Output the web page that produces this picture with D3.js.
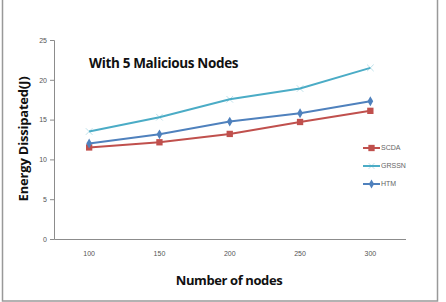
<!DOCTYPE html>
<html>
<head>
<meta charset="utf-8">
<script src="https://cdn.jsdelivr.net/npm/d3@7"></script>
<style>
  body { margin: 0; background: #fff; }
  svg { display: block; }
</style>
</head>
<body>
<div id="chart"></div>
<script>
const width = 446, height = 302;
const margin = {top: 40, right: 40, bottom: 63, left: 54};

// data
const nodes = [100, 150, 200, 250, 300];
const scda  = [11.5, 12.15, 13.2, 14.7, 16.1];
const grssn = [13.5, 15.3, 17.55, 18.9, 21.5];
const htm   = [12.0, 13.15, 14.75, 15.8, 17.3];
const yTicks = [0, 5, 10, 15, 20, 25];

const series = [
  {name: 'SCDA',  values: scda,  color: '#C0504D', marker: 'square'},
  {name: 'GRSSN', values: grssn, color: '#4BACC6', marker: 'star'},
  {name: 'HTM',   values: htm,   color: '#4F81BD', marker: 'diamond'}
];

const svg = d3.select('#chart')
  .append('svg')
    .attr('width', width)
    .attr('height', height);

// outer frame
svg.append('rect')
  .attr('x', 2.5).attr('y', -5)
  .attr('width', 435).attr('height', 306)
  .attr('fill', 'none')
  .attr('stroke', '#999')
  .attr('stroke-width', 1.5);

const innerW = 405.5 - margin.left;
const innerH = 239 - margin.top;

const g = svg.append('g')
  .attr('transform', `translate(${margin.left},${margin.top})`);

const xScale = d3.scaleBand()
  .domain(nodes)
  .range([0, innerW]);

const yScale = d3.scaleLinear()
  .domain([0, 25])
  .range([innerH, 0]);

const xc = d => xScale(d) + xScale.bandwidth() / 2;

// axes
const yAxis = g.append('g')
  .call(d3.axisLeft(yScale).tickValues(yTicks).tickSize(4).tickPadding(3));
const xAxis = g.append('g')
  .attr('transform', `translate(0,${innerH})`)
  .call(d3.axisBottom(xScale).tickSize(0).tickPadding(12));

[yAxis, xAxis].forEach(ax => {
  ax.select('.domain').attr('stroke', '#8c8c8c').attr('stroke-width', 1);
  ax.selectAll('.tick line').attr('stroke', '#8c8c8c');
  ax.selectAll('.tick text')
    .attr('fill', '#555')
    .style('font-family', 'Liberation Sans, sans-serif')
    .style('font-size', '7px');
});

// lines
const line = d3.line()
  .x((d, i) => xc(nodes[i]))
  .y(d => yScale(d));

const markerPath = (type, size) => {
  if (type === 'square') return d3.symbol(d3.symbolSquare, size)();
  if (type === 'diamond') return d3.symbol(d3.symbolDiamond, size)();
  return d3.symbol(d3.symbolTimes, size)();
};

series.forEach(s => {
  g.append('path')
    .datum(s.values)
    .attr('d', line)
    .attr('fill', 'none')
    .attr('stroke', s.color)
    .attr('stroke-width', 2);

  g.selectAll(null)
    .data(s.values)
    .join('path')
      .attr('transform', (d, i) => `translate(${xc(nodes[i])},${yScale(d)})`)
      .attr('d', markerPath(s.marker, s.marker === 'square' ? 40 : s.marker === 'diamond' ? 28 : 30))
      .attr('fill', s.color)
      .attr('stroke', s.marker === 'star' ? s.color : 'none')
      .attr('stroke-width', 0.6)
      .attr('opacity', s.marker === 'star' ? 0.6 : 1);
});

// legend
const legend = svg.append('g')
  .attr('transform', 'translate(363,148)');
series.forEach((s, i) => {
  const row = legend.append('g').attr('transform', `translate(0,${i * 18})`);
  row.append('line')
    .attr('x1', 0).attr('x2', 17)
    .attr('stroke', s.color).attr('stroke-width', 2);
  row.append('path')
    .attr('transform', 'translate(8.5,0)')
    .attr('d', markerPath(s.marker, s.marker === 'square' ? 40 : 24))
    .attr('fill', s.color)
    .attr('stroke', s.marker === 'star' ? s.color : 'none')
    .attr('stroke-width', 0.6)
    .attr('opacity', s.marker === 'star' ? 0.6 : 1);
  row.append('text')
    .attr('x', 18)
    .attr('dy', '0.35em')
    .text(s.name)
    .attr('fill', '#666')
    .style('font-family', 'Liberation Sans, sans-serif')
    .style('font-size', '7px');
});

// title
svg.append('text')
  .attr('x', 89)
  .attr('y', 68)
  .text('With 5 Malicious Nodes')
  .attr('fill', '#111')
  .style('font-family', 'Open Sans, sans-serif')
  .style('font-weight', 700)
  .style('font-size', '13.5px')
  .style('letter-spacing', '-0.35px');

// axis titles
svg.append('text')
  .attr('transform', 'translate(28,139) rotate(-90)')
  .attr('text-anchor', 'middle')
  .text('Energy Dissipated(J)')
  .attr('fill', '#111')
  .style('font-family', 'Open Sans, sans-serif')
  .style('font-weight', 700)
  .style('font-size', '13px')
  .style('letter-spacing', '-0.2px');

svg.append('text')
  .attr('x', 229)
  .attr('y', 285)
  .attr('text-anchor', 'middle')
  .text('Number of nodes')
  .attr('fill', '#111')
  .style('font-family', 'Open Sans, sans-serif')
  .style('font-weight', 700)
  .style('font-size', '13px')
  .style('letter-spacing', '-0.4px');
</script>
</body>
</html>
